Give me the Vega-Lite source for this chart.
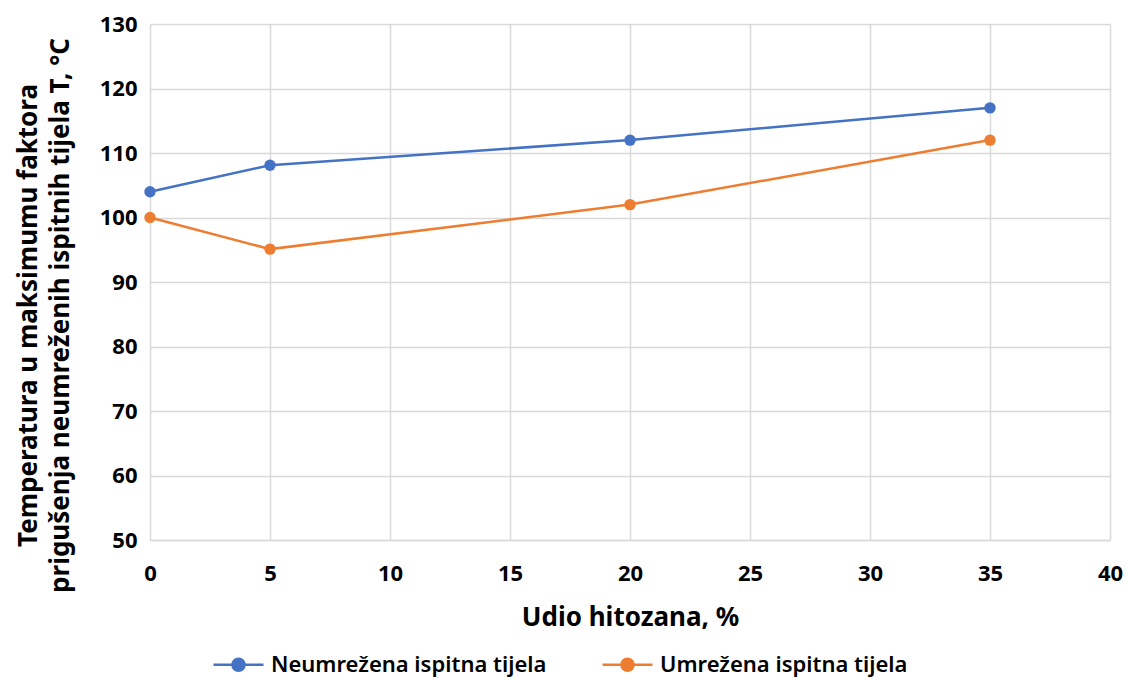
{
  "$schema": "https://vega.github.io/schema/vega-lite/v6.json",
  "width": 960,
  "height": 516,
  "autosize": {"type": "none"},
  "padding": {"left": 150, "top": 24, "right": 18, "bottom": 139},
  "background": "white",
  "config": {
    "view": {"stroke": null},
    "font": "Noto Sans"
  },
  "data": {
    "values": [
      {"udio": 0, "T": 104, "serija": "Neumrežena ispitna tijela"},
      {"udio": 5, "T": 108.1, "serija": "Neumrežena ispitna tijela"},
      {"udio": 20, "T": 112, "serija": "Neumrežena ispitna tijela"},
      {"udio": 35, "T": 117, "serija": "Neumrežena ispitna tijela"},
      {"udio": 0, "T": 100, "serija": "Umrežena ispitna tijela"},
      {"udio": 5, "T": 95.1, "serija": "Umrežena ispitna tijela"},
      {"udio": 20, "T": 102, "serija": "Umrežena ispitna tijela"},
      {"udio": 35, "T": 112, "serija": "Umrežena ispitna tijela"}
    ]
  },
  "mark": {"type": "line", "strokeWidth": 2.5, "point": {"filled": true, "size": 130}},
  "encoding": {
    "x": {
      "field": "udio", "type": "quantitative",
      "scale": {"domain": [0, 40], "nice": false},
      "axis": {
        "values": [0, 5, 10, 15, 20, 25, 30, 35, 40],
        "title": "Udio hitozana, %",
        "titleFontSize": 26, "titleFontWeight": "bold", "titleColor": "#000",
        "titlePadding": 20,
        "labelFontSize": 22, "labelFontWeight": "bold", "labelColor": "#000",
        "labelPadding": 23,
        "labelFlush": false,
        "ticks": false,
        "domainColor": "#d9d9d9", "domainWidth": 1.5,
        "gridColor": "#d9d9d9", "gridWidth": 1.5
      }
    },
    "y": {
      "field": "T", "type": "quantitative",
      "scale": {"domain": [50, 130], "nice": false, "zero": false},
      "axis": {
        "values": [50, 60, 70, 80, 90, 100, 110, 120, 130],
        "title": ["Temperatura u maksimumu faktora", "prigušenja neumreženih ispitnih tijela  T, °C"],
        "titleFontSize": 26, "titleFontWeight": "bold", "titleColor": "#000",
        "titlePadding": 26, "titleLineHeight": 32,
        "titleY": 291,
        "labelFontSize": 22, "labelFontWeight": "bold", "labelColor": "#000",
        "labelPadding": 13,
        "ticks": false,
        "domain": false,
        "gridColor": "#d9d9d9", "gridWidth": 1.5
      }
    },
    "color": {
      "field": "serija", "type": "nominal",
      "scale": {"domain": ["Neumrežena ispitna tijela", "Umrežena ispitna tijela"], "range": ["#4472C4", "#ED7D31"]},
      "legend": {
        "orient": "none",
        "legendX": 62,
        "legendY": 614,
        "direction": "horizontal",
        "title": null,
        "labelFontSize": 22, "labelFontWeight": 600, "labelColor": "#000",
        "labelLimit": 500,
        "symbolType": "M-1,0H1M-0.24,0A0.24,0.24 0 1,1 0.24,0A0.24,0.24 0 1,1 -0.24,0Z",
        "symbolSize": 2500,
        "symbolStrokeWidth": 2.5,
        "columnPadding": 50,
        "labelOffset": 6,
        "encode": {"symbols": {"update": {"fill": {"scale": "color", "field": "value"}, "stroke": {"scale": "color", "field": "value"}}}}
      }
    }
  }
}
